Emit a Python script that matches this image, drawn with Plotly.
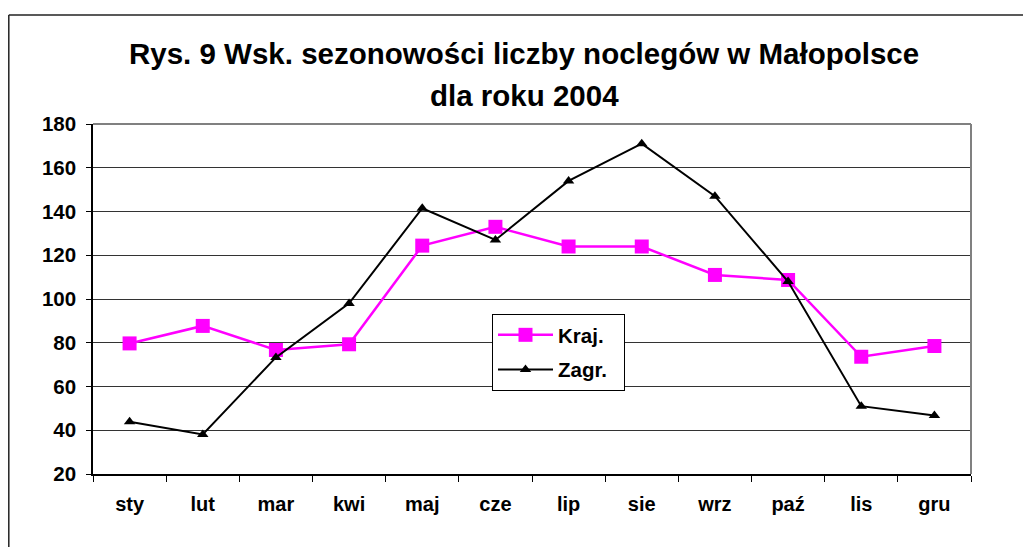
import plotly.graph_objects as go

months = ["sty", "lut", "mar", "kwi", "maj", "cze", "lip", "sie", "wrz", "paź", "lis", "gru"]
kraj = [79.7, 87.7, 76.7, 79.3, 124.4, 133.0, 124.0, 124.0, 111.0, 108.7, 73.6, 78.5]
zagr = [43.9, 38.1, 73.3, 98.0, 141.5, 127.0, 154.0, 171.0, 147.0, 108.0, 51.0, 46.7]
series_names = ["Kraj.", "Zagr."]
title_line1 = "Rys. 9 Wsk. sezonowości liczby noclegów w Małopolsce"
title_line2 = "dla roku 2004"
y_ticks = [20, 40, 60, 80, 100, 120, 140, 160, 180]

FONT = "Liberation Sans, Arial, sans-serif"
# page has an 8px body margin, so the figure is 8px smaller than the window
W, H = 1023, 539
L, R, T, B = 85, 60, 116, 73
pw, ph = W - L - R, H - T - B

def px_x(page_x):
    return (page_x - 8 - L) / pw

def px_y(page_y):
    return (H - B - (page_y - 8)) / ph

NB = "\u00a0"

fig = go.Figure()
fig.add_trace(go.Scatter(
    x=months, y=kraj, name=series_names[0] + NB * 2, mode="lines+markers",
    legendgroup="a",
    line=dict(color="#FF00FF", width=2.5),
    marker=dict(symbol="square", size=14, color="#FF00FF"),
))
fig.add_trace(go.Scatter(
    x=months, y=zagr, name=series_names[1] + NB * 2, mode="lines+markers",
    legendgroup="b",
    line=dict(color="#000000", width=2),
    marker=dict(symbol="triangle-up", size=10, color="#000000"),
))

fig.update_layout(
    width=W, height=H,
    margin=dict(l=L, r=R, t=T, b=B, pad=0),
    paper_bgcolor="white", plot_bgcolor="white",
    font=dict(family=FONT, color="black"),
    showlegend=True,
    legend=dict(
        x=px_x(492), y=px_y(314), xanchor="left", yanchor="top",
        bgcolor="white", bordercolor="black", borderwidth=1,
        font=dict(family=FONT, size=20.5, color="black", weight="bold"),
        traceorder="grouped", tracegroupgap=5, itemwidth=55,
    ),
    xaxis=dict(
        type="category", range=[-0.5, 11.5],
        showline=True, linecolor="black", linewidth=1.5,
        ticks="outside", ticklen=6, tickcolor="black", tickwidth=1,
        tickson="boundaries", showgrid=False, zeroline=False,
        tickfont=dict(family=FONT, size=20, color="black", weight="bold"),
        ticklabelstandoff=11,
    ),
    yaxis=dict(
        range=[20, 180], tickvals=y_ticks,
        showline=True, linecolor="black", linewidth=1.5,
        ticks="outside", ticklen=5, tickcolor="black", tickwidth=1,
        showgrid=True, gridcolor="#333333", gridwidth=1, zeroline=False,
        tickfont=dict(family=FONT, size=20.5, color="black", weight="bold"),
        ticklabelstandoff=6,
    ),
    shapes=[
        dict(type="line", xref="paper", yref="paper", x0=0, x1=1, y0=1, y1=1,
             line=dict(color="#808080", width=2)),
        dict(type="line", xref="paper", yref="paper", x0=1, x1=1, y0=0, y1=1,
             line=dict(color="#808080", width=2)),
        dict(type="line", xref="paper", yref="paper",
             x0=px_x(8.8), x1=px_x(8.8), y0=px_y(600), y1=px_y(15),
             line=dict(color="#222222", width=1.5), layer="below"),
        dict(type="line", xref="paper", yref="paper",
             x0=px_x(8.8), x1=px_x(1100), y0=px_y(15), y1=px_y(15),
             line=dict(color="#222222", width=1.5), layer="below"),
    ],
    annotations=[
        dict(text=f"<b>{title_line1}</b>", xref="paper", yref="paper",
             x=px_x(524), y=px_y(53), xanchor="center", yanchor="middle",
             showarrow=False, font=dict(family=FONT, size=29.5, color="black")),
        dict(text=f"<b>{title_line2}</b>", xref="paper", yref="paper",
             x=px_x(524), y=px_y(96), xanchor="center", yanchor="middle",
             showarrow=False, font=dict(family=FONT, size=29.5, color="black")),
    ],
)

fig.write_html("out.html")
